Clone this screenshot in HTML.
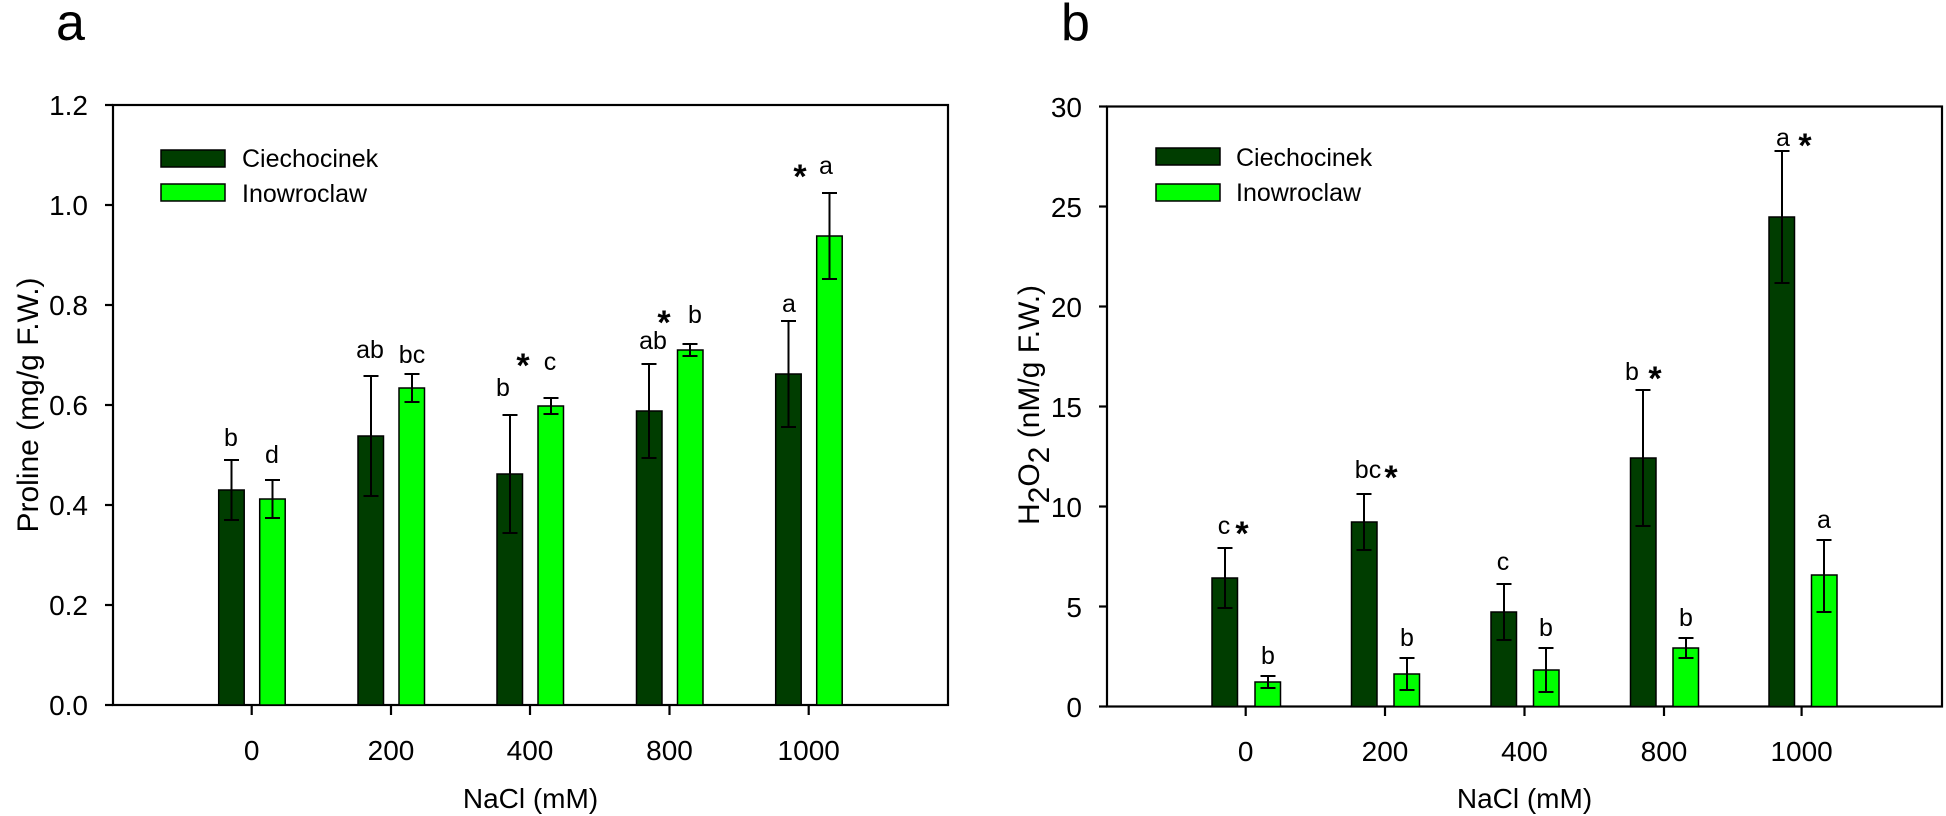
<!DOCTYPE html>
<html><head><meta charset="utf-8"><style>
html,body{margin:0;padding:0;background:#fff;}
svg{display:block;}
text{font-family:"Liberation Sans",sans-serif;fill:#000;}
</style></head><body>
<svg width="1946" height="816" viewBox="0 0 1946 816" xmlns="http://www.w3.org/2000/svg">
<!-- Panel letters -->
<text x="56" y="40" font-size="52">a</text>
<text x="1061" y="40" font-size="52">b</text>

<!-- ===== Panel a ===== -->
<g stroke="#000" stroke-width="2.2" fill="none">
<rect x="113" y="105" width="835" height="600"/>
<line x1="105" y1="105" x2="113" y2="105"/><line x1="105" y1="205" x2="113" y2="205"/>
<line x1="105" y1="305" x2="113" y2="305"/><line x1="105" y1="405" x2="113" y2="405"/>
<line x1="105" y1="505" x2="113" y2="505"/><line x1="105" y1="605" x2="113" y2="605"/>
<line x1="105" y1="705" x2="113" y2="705"/>
<line x1="251.7" y1="705" x2="251.7" y2="715"/><line x1="391" y1="705" x2="391" y2="715"/>
<line x1="530" y1="705" x2="530" y2="715"/><line x1="669.5" y1="705" x2="669.5" y2="715"/>
<line x1="808.7" y1="705" x2="808.7" y2="715"/>
</g>
<g font-size="28" text-anchor="end">
<text x="88" y="115">1.2</text><text x="88" y="215">1.0</text><text x="88" y="315">0.8</text>
<text x="88" y="415">0.6</text><text x="88" y="515">0.4</text><text x="88" y="615">0.2</text>
<text x="88" y="715">0.0</text>
</g>
<g font-size="28" text-anchor="middle">
<text x="251.7" y="760">0</text><text x="391" y="760">200</text><text x="530" y="760">400</text>
<text x="669.5" y="760">800</text><text x="808.7" y="760">1000</text>
<text x="530.5" y="808">NaCl (mM)</text>
</g>
<text font-size="30" text-anchor="middle" transform="translate(38,405) rotate(-90)">Proline (mg/g F.W.)</text>

<!-- legend a -->
<rect x="161" y="150" width="64" height="17" fill="#003d00" stroke="#000" stroke-width="1.5"/>
<rect x="161" y="184" width="64" height="17" fill="#00ff00" stroke="#000" stroke-width="1.5"/>
<text x="242" y="167" font-size="25">Ciechocinek</text>
<text x="242" y="202" font-size="25">Inowroclaw</text>

<!-- bars a -->
<g stroke="#000" stroke-width="1.5">
<rect x="218.7" y="490" width="25.5" height="215" fill="#003d00"/>
<rect x="259.7" y="499" width="25.5" height="206" fill="#00ff00"/>
<rect x="358" y="436" width="25.5" height="269" fill="#003d00"/>
<rect x="399" y="388" width="25.5" height="317" fill="#00ff00"/>
<rect x="497" y="474" width="25.5" height="231" fill="#003d00"/>
<rect x="538" y="406" width="25.5" height="299" fill="#00ff00"/>
<rect x="636.5" y="411" width="25.5" height="294" fill="#003d00"/>
<rect x="677.5" y="350" width="25.5" height="355" fill="#00ff00"/>
<rect x="775.7" y="374" width="25.5" height="331" fill="#003d00"/>
<rect x="816.7" y="236" width="25.5" height="469" fill="#00ff00"/>
</g>
<g stroke="#000" stroke-width="2" fill="none">
<path d="M231.5 460V520M224 460h15M224 520h15"/>
<path d="M272.5 480V518M265 480h15M265 518h15"/>
<path d="M371 376V496M363.5 376h15M363.5 496h15"/>
<path d="M412 374V402M404.5 374h15M404.5 402h15"/>
<path d="M510 415V533M502.5 415h15M502.5 533h15"/>
<path d="M551 398V414M543.5 398h15M543.5 414h15"/>
<path d="M649 364V458M641.5 364h15M641.5 458h15"/>
<path d="M690 344V356M682.5 344h15M682.5 356h15"/>
<path d="M788.5 321V427M781 321h15M781 427h15"/>
<path d="M829.5 193V279M822 193h15M822 279h15"/>
</g>
<g font-size="25" text-anchor="middle">
<text x="231" y="446">b</text><text x="272" y="463">d</text>
<text x="370" y="358">ab</text><text x="412" y="363">bc</text>
<text x="503" y="396">b</text><text x="550" y="370">c</text>
<text x="653" y="349">ab</text><text x="695" y="323">b</text>
<text x="789" y="312">a</text><text x="826" y="174">a</text>
</g>
<g font-size="34" font-weight="bold" text-anchor="middle">
<text x="523" y="377">*</text><text x="664" y="334">*</text><text x="800" y="188">*</text>
</g>

<!-- ===== Panel b ===== -->
<g stroke="#000" stroke-width="2.2" fill="none">
<rect x="1107" y="106.5" width="835" height="600"/>
<line x1="1099" y1="106.5" x2="1107" y2="106.5"/><line x1="1099" y1="206.5" x2="1107" y2="206.5"/>
<line x1="1099" y1="306.5" x2="1107" y2="306.5"/><line x1="1099" y1="406.5" x2="1107" y2="406.5"/>
<line x1="1099" y1="506.5" x2="1107" y2="506.5"/><line x1="1099" y1="606.5" x2="1107" y2="606.5"/>
<line x1="1099" y1="706.5" x2="1107" y2="706.5"/>
<line x1="1245.7" y1="706.5" x2="1245.7" y2="716"/><line x1="1385" y1="706.5" x2="1385" y2="716"/>
<line x1="1524.5" y1="706.5" x2="1524.5" y2="716"/><line x1="1664" y1="706.5" x2="1664" y2="716"/>
<line x1="1801.6" y1="706.5" x2="1801.6" y2="716"/>
</g>
<g font-size="28" text-anchor="end">
<text x="1082" y="117">30</text><text x="1082" y="217">25</text><text x="1082" y="317">20</text>
<text x="1082" y="417">15</text><text x="1082" y="517">10</text><text x="1082" y="617">5</text>
<text x="1082" y="717">0</text>
</g>
<g font-size="28" text-anchor="middle">
<text x="1245.7" y="761">0</text><text x="1385" y="761">200</text><text x="1524.5" y="761">400</text>
<text x="1664" y="761">800</text><text x="1801.6" y="761">1000</text>
<text x="1524.5" y="808">NaCl (mM)</text>
</g>
<text font-size="30" text-anchor="middle" transform="translate(1039,405) rotate(-90)">H<tspan font-size="30" dy="10">2</tspan><tspan dy="-10">O</tspan><tspan dy="10">2</tspan><tspan dy="-10"> (nM/g F.W.)</tspan></text>

<!-- legend b -->
<rect x="1156" y="148" width="64" height="17" fill="#003d00" stroke="#000" stroke-width="1.5"/>
<rect x="1156" y="184" width="64" height="17" fill="#00ff00" stroke="#000" stroke-width="1.5"/>
<text x="1236" y="166" font-size="25">Ciechocinek</text>
<text x="1236" y="201" font-size="25">Inowroclaw</text>

<!-- bars b -->
<g stroke="#000" stroke-width="1.5">
<rect x="1212" y="578" width="25.5" height="128.5" fill="#003d00"/>
<rect x="1255" y="682" width="25.5" height="24.5" fill="#00ff00"/>
<rect x="1351.5" y="522" width="25.5" height="184.5" fill="#003d00"/>
<rect x="1394" y="674" width="25.5" height="32.5" fill="#00ff00"/>
<rect x="1491" y="612" width="25.5" height="94.5" fill="#003d00"/>
<rect x="1533.5" y="670" width="25.5" height="36.5" fill="#00ff00"/>
<rect x="1630.5" y="458" width="25.5" height="248.5" fill="#003d00"/>
<rect x="1673" y="648" width="25.5" height="58.5" fill="#00ff00"/>
<rect x="1769" y="217" width="25.5" height="489.5" fill="#003d00"/>
<rect x="1811.5" y="575" width="25.5" height="131.5" fill="#00ff00"/>
</g>
<g stroke="#000" stroke-width="2" fill="none">
<path d="M1225 548V608M1217.5 548h15M1217.5 608h15"/>
<path d="M1268 676V688M1260.5 676h15M1260.5 688h15"/>
<path d="M1364 494V550M1356.5 494h15M1356.5 550h15"/>
<path d="M1407 658V690M1399.5 658h15M1399.5 690h15"/>
<path d="M1504 584V640M1496.5 584h15M1496.5 640h15"/>
<path d="M1546 648V692M1538.5 648h15M1538.5 692h15"/>
<path d="M1643 390V526M1635.5 390h15M1635.5 526h15"/>
<path d="M1686 638V658M1678.5 638h15M1678.5 658h15"/>
<path d="M1782 151V283M1774.5 151h15M1774.5 283h15"/>
<path d="M1824 540V612M1816.5 540h15M1816.5 612h15"/>
</g>
<g font-size="25" text-anchor="middle">
<text x="1224" y="534">c</text><text x="1368" y="478">bc</text><text x="1503" y="570">c</text>
<text x="1632" y="380">b</text><text x="1783" y="146">a</text>
<text x="1268" y="664">b</text><text x="1407" y="646">b</text><text x="1546" y="636">b</text>
<text x="1686" y="626">b</text><text x="1824" y="528">a</text>
</g>
<g font-size="34" font-weight="bold" text-anchor="middle">
<text x="1242" y="545">*</text><text x="1391" y="489">*</text><text x="1655" y="390">*</text><text x="1805" y="157">*</text>
</g>
</svg>
</body></html>
